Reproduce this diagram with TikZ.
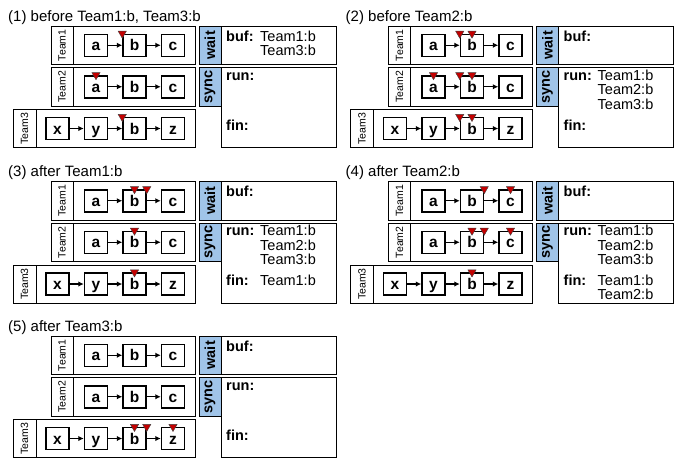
\documentclass[tikz,border=0pt]{standalone}
\usepackage{fontspec}
\setmainfont{Liberation Sans}
\usetikzlibrary{arrows.meta,shapes.geometric}
\definecolor{kek}{RGB}{160,196,232}
\definecolor{piros}{RGB}{196,0,0}
\tikzset{
  keret/.style={draw,line width=0.9pt},
  feladat/.style={draw,line width=1.5pt,minimum width=23pt,minimum height=22pt,inner sep=0pt,
                  text height=11pt,text depth=0pt,font=\bfseries\fontsize{15.5}{15.5}\selectfont},
  nyil/.style={-{Latex[length=5.5pt,width=5.5pt]},line width=1.2pt},
  csapat/.style={rotate=90,inner sep=0pt,font=\fontsize{10.5}{10.5}\selectfont},
  allas/.style={draw,line width=0.9pt,fill=kek},
  allasnev/.style={rotate=90,inner sep=0pt,font=\bfseries\fontsize{14.5}{14.5}\selectfont},
  mezo/.style={anchor=base west,inner sep=0pt,font=\bfseries\fontsize{14.5}{14.5}\selectfont},
  ertek/.style={anchor=base west,inner sep=0pt,font=\fontsize{14.5}{14.5}\selectfont},
  jelzo/.style={regular polygon,regular polygon sides=3,shape border rotate=180,fill=piros,
                draw=black!75,line width=0.4pt,inner sep=0pt,minimum size=9.5pt},
  cim/.style={anchor=base west,inner sep=0pt,font=\fontsize{15}{15}\selectfont},
}
% #1 prefix, #2 eltolas, #3 cim, #4 jelzok es ertekek
\newcommand\panel[4]{%
  \begin{scope}[shift={#2},name prefix=#1-]
    \node[cim] (cim) at (8,21) {#3};
    % Team1
    \draw[keret] (51,26) rectangle (195,64.5);
    \draw[keret] (73,26) -- (73,64.5);
    \node[csapat] (n1) at (62,45.25) {Team1};
    \node[feladat] (a1) at (96,45.25) {a};
    \node[feladat] (b1) at (134.5,45.25) {b};
    \node[feladat] (c1) at (173,45.25) {c};
    \draw[nyil] (a1) -- (b1); \draw[nyil] (b1) -- (c1);
    % Team2
    \draw[keret] (51,67.5) rectangle (195,106);
    \draw[keret] (73,67.5) -- (73,106);
    \node[csapat] (n2) at (62,86.75) {Team2};
    \node[feladat] (a2) at (96,86.75) {a};
    \node[feladat] (b2) at (134.5,86.75) {b};
    \node[feladat] (c2) at (173,86.75) {c};
    \draw[nyil] (a2) -- (b2); \draw[nyil] (b2) -- (c2);
    % Team3
    \draw[keret] (13,109.5) rectangle (195,147.5);
    \draw[keret] (36,109.5) -- (36,147.5);
    \node[csapat] (n3) at (24.5,128.5) {Team3};
    \node[feladat] (x3) at (57.5,128.5) {x};
    \node[feladat] (y3) at (96,128.5) {y};
    \node[feladat] (b3) at (134.5,128.5) {b};
    \node[feladat] (z3) at (173,128.5) {z};
    \draw[nyil] (x3) -- (y3); \draw[nyil] (y3) -- (b3); \draw[nyil] (b3) -- (z3);
    % wait / sync
    \draw[allas] (199,26) rectangle (221,64.5);
    \node[allasnev] (w) at (210,45.25) {wait};
    \draw[keret] (221,26) rectangle (336,64.5);
    \node[mezo] (buf) at (226,41) {buf:};
    \draw[allas] (199,67.5) rectangle (221,106);
    \node[allasnev] (s) at (210,86.75) {sync};
    \draw[keret] (221,67.5) rectangle (336,147.5);
    \node[mezo] (run) at (226,80) {run:};
    \node[mezo] (fin) at (226,130) {fin:};
    #4
  \end{scope}}

\begin{document}
\begin{tikzpicture}[x=1pt,y=-1pt]
  \useasboundingbox (0,0) rectangle (680,459);

  \panel{p1}{(0,0)}{(1) before Team1:b, Team3:b}{
    \node[jelzo] (k1) at (b1.north west) {};
    \node[jelzo] (k2) at (a2.north) {};
    \node[jelzo] (k3) at (b3.north west) {};
    \node[ertek] (v1) at (260,41) {Team1:b};
    \node[ertek] (v2) at (260,55.5) {Team3:b};
  }

  \panel{p2}{(337.5,0)}{(2) before Team2:b}{
    \node[jelzo] (k1) at (b1.north west) {};
    \node[jelzo] (k2) at (b1.north) {};
    \node[jelzo] (k3) at (a2.north) {};
    \node[jelzo] (k4) at (b2.north west) {};
    \node[jelzo] (k5) at (b2.north) {};
    \node[jelzo] (k6) at (b3.north west) {};
    \node[jelzo] (k7) at (b3.north) {};
    \node[ertek] (r1) at (260,80) {Team1:b};
    \node[ertek] (r2) at (260,94.5) {Team2:b};
    \node[ertek] (r3) at (260,109) {Team3:b};
  }

  \panel{p3}{(0,155.5)}{(3) after Team1:b}{
    \node[jelzo] (k1) at (b1.north) {};
    \node[jelzo] (k2) at (b1.north east) {};
    \node[jelzo] (k3) at (b2.north) {};
    \node[jelzo] (k4) at (b3.north) {};
    \node[ertek] (r1) at (260,80) {Team1:b};
    \node[ertek] (r2) at (260,94.5) {Team2:b};
    \node[ertek] (r3) at (260,109) {Team3:b};
    \node[ertek] (f1) at (260,130) {Team1:b};
  }

  \panel{p4}{(337.5,155.5)}{(4) after Team2:b}{
    \node[jelzo] (k1) at (b1.north east) {};
    \node[jelzo] (k2) at (c1.north) {};
    \node[jelzo] (k3) at (b2.north) {};
    \node[jelzo] (k4) at (b2.north east) {};
    \node[jelzo] (k5) at (c2.north) {};
    \node[jelzo] (k6) at (b3.north) {};
    \node[ertek] (r1) at (260,80) {Team1:b};
    \node[ertek] (r2) at (260,94.5) {Team2:b};
    \node[ertek] (r3) at (260,109) {Team3:b};
    \node[ertek] (f1) at (260,130) {Team1:b};
    \node[ertek] (f2) at (260,144) {Team2:b};
  }

  \panel{p5}{(0,310)}{(5) after Team3:b}{
    \node[jelzo] (k1) at (b3.north) {};
    \node[jelzo] (k2) at (b3.north east) {};
    \node[jelzo] (k3) at (z3.north) {};
  }
\end{tikzpicture}
\end{document}
